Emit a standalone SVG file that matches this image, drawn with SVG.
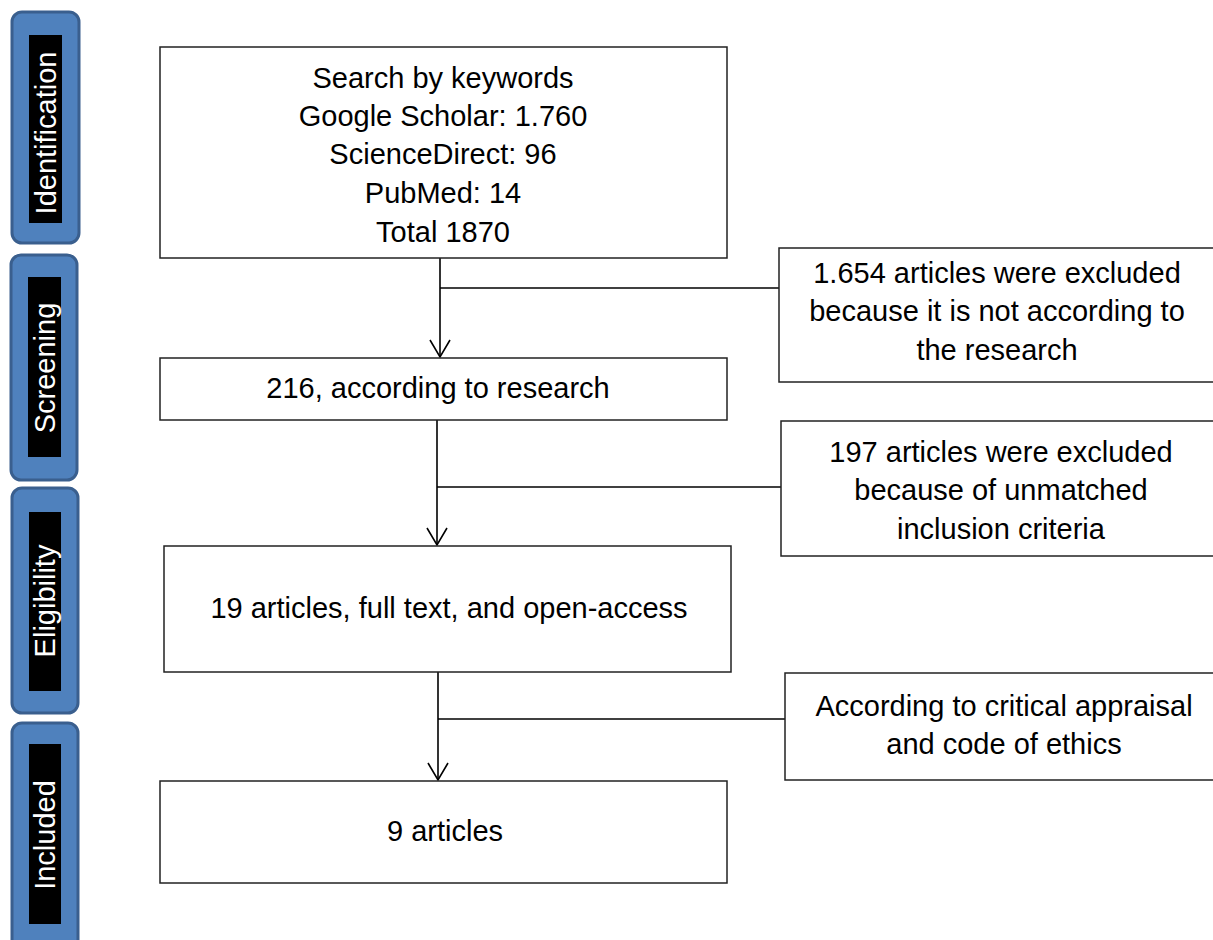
<svg xmlns="http://www.w3.org/2000/svg" width="1213" height="940" viewBox="0 0 1213 940">
<defs>
<style>
.phase{fill:#4F81BD;stroke:#3A5F8E;stroke-width:3}
.band{fill:#000}
.ptxt{font-family:"Liberation Sans",Arial,sans-serif;font-size:29px;fill:#fff;text-anchor:middle}
.box{fill:#fff;stroke:#222;stroke-width:1.5}
.txt{font-family:"Liberation Sans",Arial,sans-serif;font-size:29px;fill:#000;text-anchor:middle}
.ln{stroke:#000;stroke-width:1.6;fill:none}
</style>
<marker id="arr" markerWidth="24" markerHeight="24" refX="19" refY="12" orient="auto" markerUnits="userSpaceOnUse">
<path d="M2,2 L19,12 L2,22" fill="none" stroke="#000" stroke-width="1.6"/>
</marker>
</defs>
<rect width="1213" height="940" fill="#fff"/>
<g id="phase-identification">
<rect class="phase" x="12" y="12" width="67" height="231" rx="10"/>
<rect class="band" x="29" y="35" width="33" height="188"/>
<text class="ptxt" transform="translate(46,133) rotate(-90)" x="0" y="10">Identification</text>
</g>
<g id="phase-screening">
<rect class="phase" x="11" y="255" width="66" height="225" rx="10"/>
<rect class="band" x="28" y="277" width="33" height="180"/>
<text class="ptxt" transform="translate(45,368) rotate(-90)" x="0" y="10">Screening</text>
</g>
<g id="phase-eligibility">
<rect class="phase" x="12" y="488" width="66" height="225" rx="10"/>
<rect class="band" x="29" y="512" width="32" height="179"/>
<text class="ptxt" transform="translate(45,601) rotate(-90)" x="0" y="10">Eligibility</text>
</g>
<g id="phase-included">
<rect class="phase" x="12" y="723" width="66" height="240" rx="10"/>
<rect class="band" x="29" y="744" width="32" height="180"/>
<text class="ptxt" transform="translate(45,835) rotate(-90)" x="0" y="10">Included</text>
</g>
<g id="connectors">
<line class="ln" x1="440" y1="258" x2="440" y2="357" marker-end="url(#arr)"/>
<line class="ln" x1="440" y1="288" x2="779" y2="288"/>
<line class="ln" x1="437" y1="420" x2="437" y2="545" marker-end="url(#arr)"/>
<line class="ln" x1="437" y1="487" x2="781" y2="487"/>
<line class="ln" x1="438" y1="672" x2="438" y2="780" marker-end="url(#arr)"/>
<line class="ln" x1="438" y1="719" x2="785" y2="719" stroke-width="2"/>
</g>
<g id="node-search">
<rect class="box" x="160" y="47" width="567" height="211"/>
<text class="txt" x="443" y="88">Search by keywords</text>
<text class="txt" x="443" y="126">Google Scholar: 1.760</text>
<text class="txt" x="443" y="164">ScienceDirect: 96</text>
<text class="txt" x="443" y="203">PubMed: 14</text>
<text class="txt" x="443" y="242">Total 1870</text>
</g>
<g id="node-excluded1">
<rect class="box" x="779" y="248" width="440" height="134"/>
<text class="txt" x="997" y="283">1.654 articles were excluded</text>
<text class="txt" x="997" y="321">because it is not according to</text>
<text class="txt" x="997" y="360">the research</text>
</g>
<g id="node-216">
<rect class="box" x="160" y="358" width="567" height="62"/>
<text class="txt" x="438" y="398">216, according to research</text>
</g>
<g id="node-excluded2">
<rect class="box" x="781" y="421" width="440" height="135"/>
<text class="txt" x="1001" y="462">197 articles were excluded</text>
<text class="txt" x="1001" y="500">because of unmatched</text>
<text class="txt" x="1001" y="539">inclusion criteria</text>
</g>
<g id="node-19">
<rect class="box" x="164" y="546" width="567" height="126"/>
<text class="txt" x="449" y="618">19 articles, full text, and open-access</text>
</g>
<g id="node-appraisal">
<rect class="box" x="785" y="673" width="440" height="107"/>
<text class="txt" x="1004" y="716">According to critical appraisal</text>
<text class="txt" x="1004" y="754">and code of ethics</text>
</g>
<g id="node-9">
<rect class="box" x="160" y="781" width="567" height="102"/>
<text class="txt" x="445" y="841">9 articles</text>
</g>
</svg>
